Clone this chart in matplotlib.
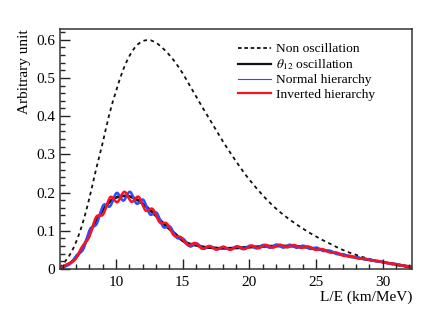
"""Reactor antineutrino L/E spectrum: no oscillation vs theta12 vs NH / IH."""

import matplotlib
matplotlib.use("Agg")
import matplotlib.pyplot as plt
import numpy as np
from matplotlib.lines import Line2D
from matplotlib.patches import PathPatch
from matplotlib.path import Path
from matplotlib.ticker import MultipleLocator, FixedLocator

plt.rcParams["font.family"] = ["Liberation Serif", "DejaVu Serif"]
plt.rcParams["mathtext.fontset"] = "stix"

# --- values --------------------------------------------------------------
noosc_x = [5.8, 6.5, 7.0, 7.5, 8.0, 8.5, 9.0, 9.5, 10.0, 10.5, 11.0, 11.5, 12.0,
           12.5, 13.0, 13.5, 14.0, 14.5, 15.0, 15.5, 16.0, 16.5, 17.0, 17.5,
           18.0, 18.5, 19.0, 19.5, 20.0, 21.0, 22.0, 23.0, 24.0, 25.0, 26.0,
           27.0, 28.0, 29.0, 30.0, 31.0, 32.2]
noosc_y = [0.003, 0.035, 0.07, 0.12, 0.185, 0.26, 0.33, 0.405, 0.465, 0.518,
           0.557, 0.583, 0.596, 0.599, 0.592, 0.578, 0.56, 0.538, 0.512, 0.482,
           0.452, 0.422, 0.393, 0.364, 0.335, 0.308, 0.282, 0.257, 0.234, 0.193,
           0.158, 0.13, 0.106, 0.085, 0.067, 0.05, 0.037, 0.026, 0.017, 0.010,
           0.004]

t12_x = [5.8, 6.0, 6.5, 7.0, 7.5, 8.0, 8.5, 9.0, 9.5, 10.0, 10.5, 11.0, 11.5, 12.0,
         12.5, 13.0, 13.5, 14.0, 14.5, 15.0, 15.5, 16.0, 16.5, 17.0, 17.5, 18.0,
         19.0, 20.0, 21.0, 22.0, 23.0, 24.0, 25.0, 26.0, 27.0, 28.0, 29.0, 30.0,
         31.0, 32.2]
t12_y = [0.002, 0.005, 0.014, 0.03, 0.055, 0.092, 0.125, 0.153, 0.175, 0.187,
         0.191, 0.19, 0.183, 0.171, 0.156, 0.139, 0.121, 0.105, 0.09, 0.074,
         0.066, 0.062, 0.058, 0.056, 0.055, 0.054, 0.055, 0.057, 0.059, 0.06,
         0.06, 0.058, 0.053, 0.046, 0.037, 0.03, 0.024, 0.018, 0.012, 0.005]

nh_x = [5.8, 6.55, 7.05, 7.55, 8.05, 8.55, 9.05, 9.55, 10.05, 10.55, 11.05, 11.55,
        12.05, 12.55, 13.05, 13.55, 14.05, 14.55, 15.05, 15.55, 16.05, 16.55,
        17.05, 17.55, 18.05, 18.55, 19.05, 19.55, 20.05, 20.55, 21.05, 21.55,
        22.05, 22.55, 23.05, 23.55, 24.05, 24.55, 25.05, 25.55, 26.05, 26.55,
        27.05, 27.55, 28.05, 28.55, 29.05, 29.55, 30.05, 30.55, 31.05, 31.55, 32.2]
nh_y = [0.002, 0.013, 0.036, 0.052, 0.104, 0.118, 0.167, 0.164, 0.199, 0.179,
        0.202, 0.171, 0.181, 0.143, 0.147, 0.110, 0.111, 0.082, 0.079, 0.059,
        0.067, 0.053, 0.060, 0.051, 0.058, 0.0505, 0.059, 0.052, 0.061, 0.054,
        0.063, 0.0555, 0.064, 0.056, 0.0635, 0.0555, 0.061, 0.0525, 0.056, 0.047,
        0.048, 0.039, 0.0387, 0.0315, 0.0312, 0.0257, 0.0247, 0.0197, 0.0187,
        0.0137, 0.0128, 0.0083, 0.005]

ih_x = [5.8, 6.3, 6.92, 7.45, 7.98, 8.51, 9.04, 9.57, 10.10, 10.63, 11.16, 11.69,
        12.22, 12.75, 13.28, 13.81, 14.34, 14.87, 15.40, 15.93, 16.46, 16.99,
        17.52, 18.05, 18.58, 19.11, 19.64, 20.17, 20.70, 21.23, 21.76, 22.29,
        22.82, 23.35, 23.88, 24.41, 24.94, 25.47, 26.00, 26.53, 27.06, 27.59,
        28.12, 28.65, 29.18, 29.71, 30.24, 30.77, 31.30, 31.83, 32.2]
ih_y = [0.002, 0.012, 0.024, 0.058, 0.083, 0.136, 0.143, 0.188, 0.175, 0.202,
        0.176, 0.189, 0.153, 0.157, 0.122, 0.119, 0.088, 0.083, 0.062, 0.068,
        0.053, 0.060, 0.051, 0.058, 0.0505, 0.0592, 0.0523, 0.0613, 0.0544,
        0.0632, 0.0558, 0.0635, 0.0565, 0.0628, 0.0552, 0.059, 0.0503, 0.0522,
        0.0435, 0.0432, 0.0345, 0.0344, 0.0278, 0.0271, 0.0219, 0.0207, 0.0156,
        0.0144, 0.0099, 0.0077, 0.005]

x_ticks = [10, 15, 20, 25, 30]
y_ticks = [0, 0.1, 0.2, 0.3, 0.4, 0.5, 0.6]
y_tick_labels = ["0", "0.1", "0.2", "0.3", "0.4", "0.5", "0.6"]

BLACK = "#111111"
BLUE = "#2a4dff"
RED = "#ff1020"


def smooth_curve(ax, xs, ys, **kw):
    # draw the read points as a smooth curve (Catmull-Rom -> cubic Bezier)
    p = np.column_stack([xs, ys]).astype(float)
    verts = [p[0]]
    codes = [Path.MOVETO]
    n = len(p)
    for i in range(n - 1):
        p0 = p[i - 1] if i > 0 else p[i]
        p3 = p[i + 2] if i + 2 < n else p[i + 1]
        c1 = p[i] + (p[i + 1] - p0) / 6.0
        c2 = p[i + 1] - (p3 - p[i]) / 6.0
        verts += [c1, c2, p[i + 1]]
        codes += [Path.CURVE4] * 3
    patch = PathPatch(Path(verts, codes), fill=False, **kw)
    ax.add_patch(patch)
    return patch


# --- figure --------------------------------------------------------------
fig = plt.figure(figsize=(4.36, 3.27), dpi=100)
ax = fig.add_axes([0.1376, 0.1774, 0.8074, 0.7339])

smooth_curve(ax, noosc_x, noosc_y, edgecolor=BLACK, lw=1.3, ls=(0, (2.0, 2.0)))
smooth_curve(ax, t12_x, t12_y, edgecolor=BLACK, lw=2.0)
smooth_curve(ax, nh_x, nh_y, edgecolor=BLUE, lw=1.8)
smooth_curve(ax, ih_x, ih_y, edgecolor=RED, lw=1.8)

ax.set_xlim(5.8, 32.2)
ax.set_ylim(0, 0.628)
ax.xaxis.set_major_locator(FixedLocator(x_ticks))
ax.xaxis.set_minor_locator(MultipleLocator(1))
ax.yaxis.set_major_locator(FixedLocator(y_ticks))
ax.set_yticklabels(y_tick_labels)
ax.yaxis.set_minor_locator(MultipleLocator(0.02))
ax.tick_params(which="both", direction="in", top=False, right=False,
               labelsize=11, width=1.0, color="#222222")
ax.tick_params(which="major", length=7)
ax.tick_params(which="minor", length=3.5)
ax.tick_params(axis="x", pad=5)
for s in ax.spines.values():
    s.set_linewidth(1.1)
    s.set_color("#333333")

ax.set_xlabel("L/E (km/MeV)", fontsize=11, loc="right", labelpad=1)
ax.set_ylabel("Arbitrary unit", fontsize=11, loc="top", labelpad=4)

handles = [
    Line2D([], [], color=BLACK, lw=1.3, ls=(0, (2.0, 1.5))),
    Line2D([], [], color=BLACK, lw=1.6),
    Line2D([], [], color=BLUE, lw=0.8),
    Line2D([], [], color=RED, lw=1.6),
]
labels = ["Non oscillation", r"$\theta_{12}$ oscillation",
          "Normal hierarchy", "Inverted hierarchy"]
ax.legend(handles, labels, loc="upper left", bbox_to_anchor=(0.491, 0.965),
          frameon=False, fontsize=9.7, handlelength=2.4, handletextpad=0.4,
          labelspacing=0.15, borderaxespad=0)

fig.savefig("out.png", dpi=100)
